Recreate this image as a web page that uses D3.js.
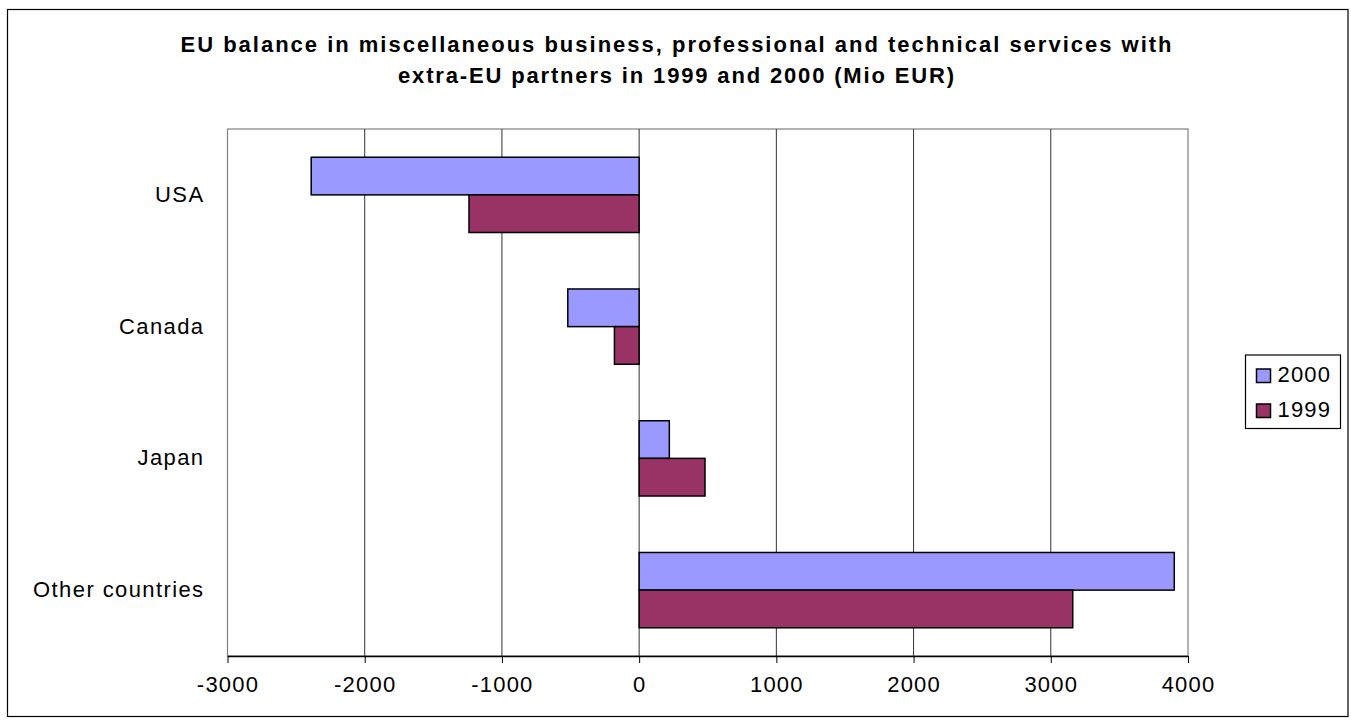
<!DOCTYPE html>
<html>
<head>
<meta charset="utf-8">
<script src="https://cdn.jsdelivr.net/npm/d3@7"></script>
<style>
  body { margin: 0; background: #fff; }
  svg { display: block; font-family: "Liberation Sans", Arial, sans-serif; }
</style>
</head>
<body>
<div id="chart"></div>
<script>
// values (Mio EUR)
const countries = ["USA", "Canada", "Japan", "Other countries"];
const seriesNames = ["2000", "1999"];
const values2000 = [-2390, -520, 220, 3900];
const values1999 = [-1240, -180, 480, 3160];
const xTicks = [-3000, -2000, -1000, 0, 1000, 2000, 3000, 4000];
const titleLines = [
  "EU balance in miscellaneous business, professional and technical services with",
  "extra-EU partners in 1999 and 2000 (Mio EUR)"
];
const colors = { "2000": "#9999FF", "1999": "#993366" };

const width = 1351, height = 720;
const plot = { left: 227.5, right: 1188, top: 129, bottom: 656 };

const rows = countries.map((c, i) => ({
  country: c,
  vals: [
    { key: "2000", value: values2000[i] },
    { key: "1999", value: values1999[i] }
  ]
}));

const svg = d3.select("#chart").append("svg")
    .attr("width", width)
    .attr("height", height);

// outer chart frame
svg.append("rect")
    .attr("x", 7.5).attr("y", 9.5)
    .attr("width", 1340.5).attr("height", 707)
    .attr("fill", "#fff")
    .attr("stroke", "#000")
    .attr("stroke-width", 1.2);

// title, spread out like the original
const title = svg.append("g")
    .attr("font-weight", "bold")
    .attr("font-size", 22)
    .attr("text-anchor", "middle");
title.selectAll("text")
  .data(titleLines)
  .join("text")
    .attr("x", 676)
    .attr("y", (d, i) => 52 + i * 31)
    .attr("textLength", (d, i) => i === 0 ? 991 : 556)
    .attr("lengthAdjust", "spacing")
    .text(d => d);

const x = d3.scaleLinear()
    .domain([xTicks[0], xTicks[xTicks.length - 1]])
    .range([plot.left, plot.right]);

const y = d3.scaleBand()
    .domain(countries)
    .range([plot.top, plot.bottom])
    .paddingInner(3 / 7)
    .paddingOuter(3 / 14);

const ySub = d3.scaleBand()
    .domain(seriesNames)
    .range([0, y.bandwidth()]);

// plot area border
svg.append("rect")
    .attr("x", plot.left).attr("y", plot.top)
    .attr("width", plot.right - plot.left)
    .attr("height", plot.bottom - plot.top)
    .attr("fill", "none")
    .attr("stroke", "#808080")
    .attr("stroke-width", 1.2);

// vertical gridlines
svg.append("g")
  .selectAll("line")
  .data(xTicks.slice(1, -1))
  .join("line")
    .attr("x1", d => x(d)).attr("x2", d => x(d))
    .attr("y1", plot.top).attr("y2", plot.bottom)
    .attr("stroke", "#333")
    .attr("stroke-width", 1);

// bars
svg.append("g")
  .selectAll("g")
  .data(rows)
  .join("g")
    .attr("transform", d => `translate(0,${y(d.country)})`)
  .selectAll("rect")
  .data(d => d.vals)
  .join("rect")
    .attr("x", d => x(Math.min(0, d.value)))
    .attr("y", d => ySub(d.key))
    .attr("width", d => Math.abs(x(d.value) - x(0)))
    .attr("height", ySub.bandwidth())
    .attr("fill", d => colors[d.key])
    .attr("stroke", "#000")
    .attr("stroke-width", 1.5);

// x axis (plain hyphen for negatives, as in the original)
const xAxis = svg.append("g")
    .attr("transform", `translate(0,${plot.bottom})`)
    .call(d3.axisBottom(x).tickValues(xTicks).tickFormat(d => String(d))
      .tickSize(7).tickPadding(10).tickSizeOuter(0));
xAxis.select(".domain").attr("stroke", "#000").attr("stroke-width", 1.3);
xAxis.selectAll(".tick line").attr("stroke", "#000");
xAxis.selectAll(".tick text")
    .attr("font-family", "Liberation Sans, Arial, sans-serif")
    .attr("font-size", 22)
    .attr("letter-spacing", 1.2)
    .attr("fill", "#000")
    .attr("dy", "0.85em");

// category labels
svg.append("g")
  .selectAll("text")
  .data(countries)
  .join("text")
    .attr("x", plot.left - 23)
    .attr("y", d => y(d) + y.bandwidth() / 2 + 7)
    .attr("text-anchor", "end")
    .attr("font-size", 22)
    .attr("letter-spacing", 1.4)
    .text(d => d);

// legend
const legend = svg.append("g").attr("transform", "translate(1245.5,355)");
legend.append("rect")
    .attr("width", 95).attr("height", 73.5)
    .attr("fill", "#fff")
    .attr("stroke", "#000")
    .attr("stroke-width", 1.2);
const item = legend.selectAll("g.item")
  .data(seriesNames)
  .join("g")
    .attr("class", "item")
    .attr("transform", (d, i) => `translate(11,${14 + i * 35})`);
item.append("rect")
    .attr("width", 14).attr("height", 13.5)
    .attr("fill", d => colors[d])
    .attr("stroke", "#000")
    .attr("stroke-width", 1.5);
item.append("text")
    .attr("x", 21)
    .attr("y", 12.5)
    .attr("font-size", 22)
    .attr("letter-spacing", 1.2)
    .text(d => d);
</script>
</body>
</html>
